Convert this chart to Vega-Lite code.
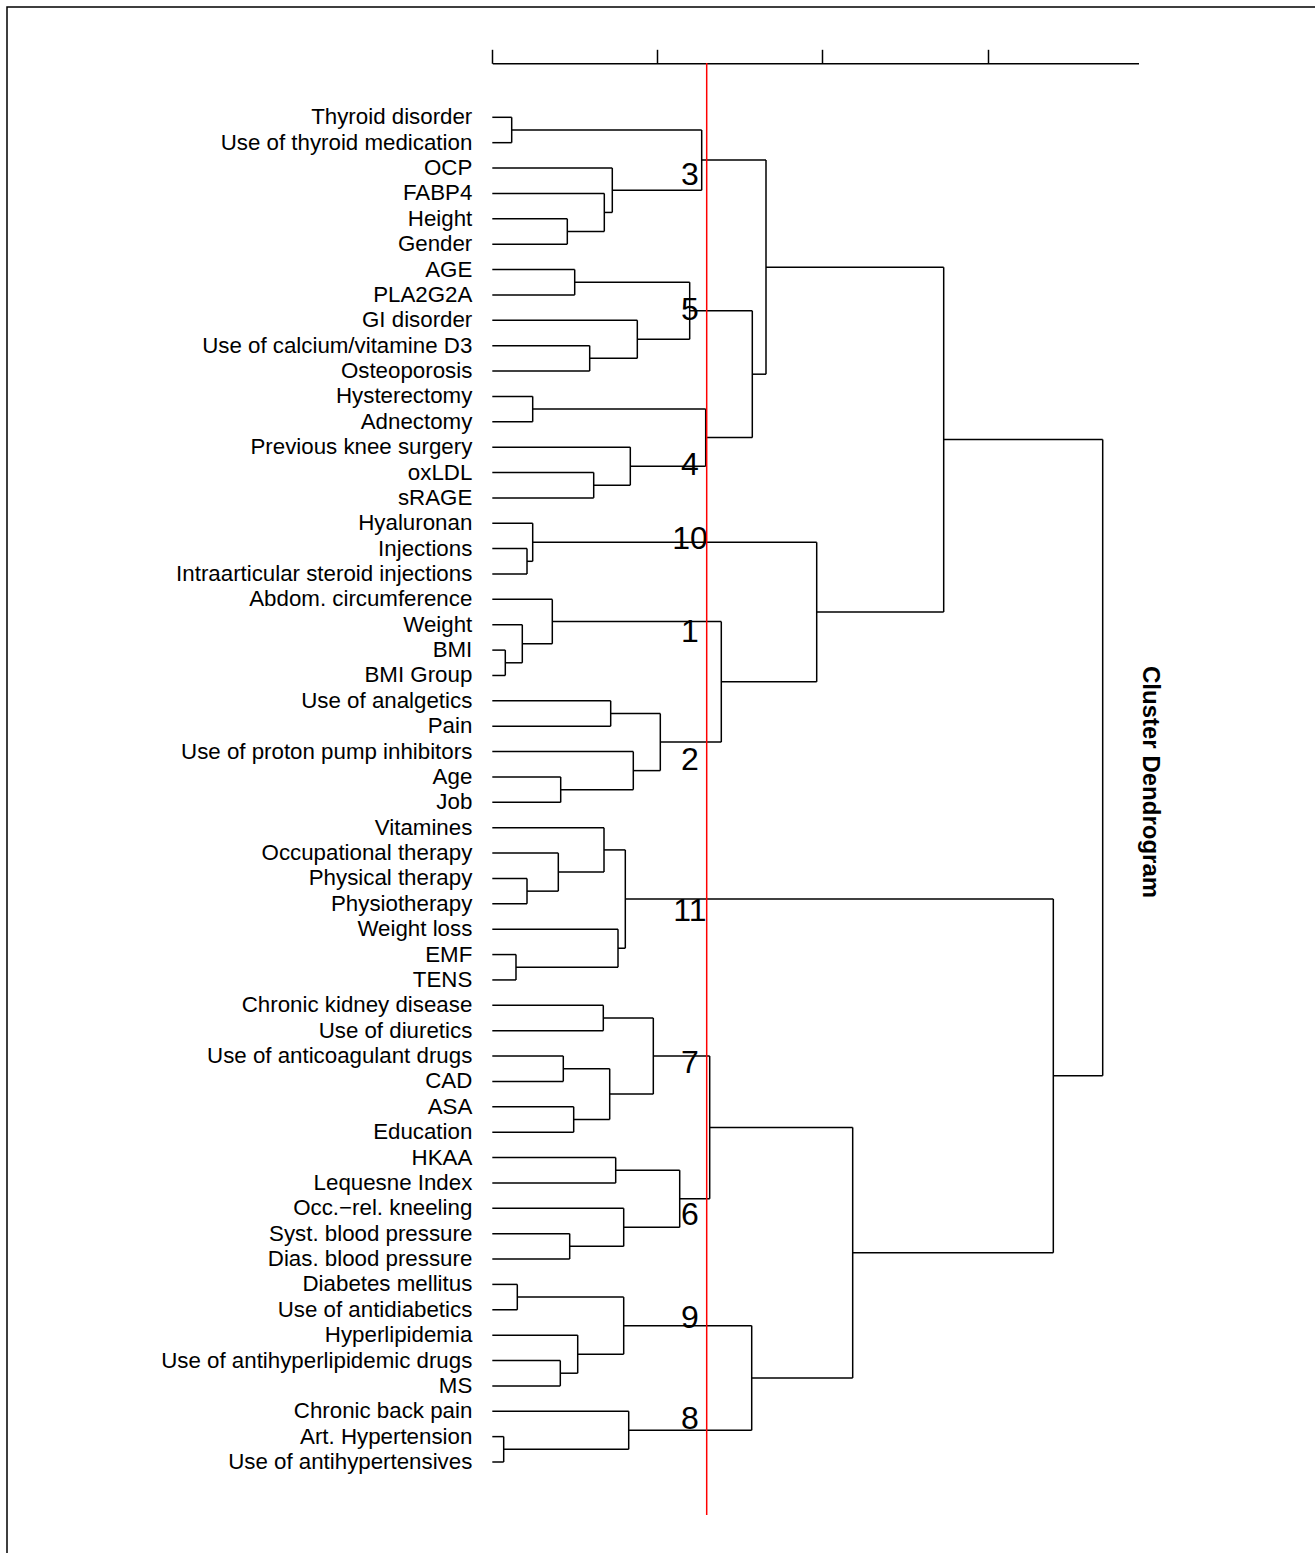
{
  "$schema": "https://vega.github.io/schema/vega-lite/v6.json",
  "width": 1310,
  "height": 1548,
  "autosize": "none",
  "padding": {"left": 7, "top": 7, "right": 0, "bottom": 0},
  "background": "#ffffff",
  "config": {
    "view": {"stroke": "#000000", "strokeWidth": 1.5},
    "font": "Liberation Sans",
    "axisX": {
      "orient": "top", "offset": -56.3, "labels": false, "title": null, "grid": false,
      "tickSize": 14, "tickColor": "#000000", "tickWidth": 1.5,
      "domainColor": "#000000", "domainWidth": 1.5
    }
  },
  "datasets": {
    "leaves": [
      {"name": "Thyroid disorder", "pos": 1},
      {"name": "Use of thyroid medication", "pos": 2},
      {"name": "OCP", "pos": 3},
      {"name": "FABP4", "pos": 4},
      {"name": "Height", "pos": 5},
      {"name": "Gender", "pos": 6},
      {"name": "AGE", "pos": 7},
      {"name": "PLA2G2A", "pos": 8},
      {"name": "GI disorder", "pos": 9},
      {"name": "Use of calcium/vitamine D3", "pos": 10},
      {"name": "Osteoporosis", "pos": 11},
      {"name": "Hysterectomy", "pos": 12},
      {"name": "Adnectomy", "pos": 13},
      {"name": "Previous knee surgery", "pos": 14},
      {"name": "oxLDL", "pos": 15},
      {"name": "sRAGE", "pos": 16},
      {"name": "Hyaluronan", "pos": 17},
      {"name": "Injections", "pos": 18},
      {"name": "Intraarticular steroid injections", "pos": 19},
      {"name": "Abdom. circumference", "pos": 20},
      {"name": "Weight", "pos": 21},
      {"name": "BMI", "pos": 22},
      {"name": "BMI Group", "pos": 23},
      {"name": "Use of analgetics", "pos": 24},
      {"name": "Pain", "pos": 25},
      {"name": "Use of proton pump inhibitors", "pos": 26},
      {"name": "Age", "pos": 27},
      {"name": "Job", "pos": 28},
      {"name": "Vitamines", "pos": 29},
      {"name": "Occupational therapy", "pos": 30},
      {"name": "Physical therapy", "pos": 31},
      {"name": "Physiotherapy", "pos": 32},
      {"name": "Weight loss", "pos": 33},
      {"name": "EMF", "pos": 34},
      {"name": "TENS", "pos": 35},
      {"name": "Chronic kidney disease", "pos": 36},
      {"name": "Use of diuretics", "pos": 37},
      {"name": "Use of anticoagulant drugs", "pos": 38},
      {"name": "CAD", "pos": 39},
      {"name": "ASA", "pos": 40},
      {"name": "Education", "pos": 41},
      {"name": "HKAA", "pos": 42},
      {"name": "Lequesne Index", "pos": 43},
      {"name": "Occ.−rel. kneeling", "pos": 44},
      {"name": "Syst. blood pressure", "pos": 45},
      {"name": "Dias. blood pressure", "pos": 46},
      {"name": "Diabetes mellitus", "pos": 47},
      {"name": "Use of antidiabetics", "pos": 48},
      {"name": "Hyperlipidemia", "pos": 49},
      {"name": "Use of antihyperlipidemic drugs", "pos": 50},
      {"name": "MS", "pos": 51},
      {"name": "Chronic back pain", "pos": 52},
      {"name": "Art. Hypertension", "pos": 53},
      {"name": "Use of antihypertensives", "pos": 54}
    ],
    "merges": [
      {"h": 0.1175, "y1": 1, "h1": 0, "y2": 2, "h2": 0},
      {"h": 0.4543, "y1": 5, "h1": 0, "y2": 6, "h2": 0},
      {"h": 0.6784, "y1": 4, "h1": 0, "y2": 5.5, "h2": 0.4543},
      {"h": 0.7268, "y1": 3, "h1": 0, "y2": 4.75, "h2": 0.6784},
      {"h": 1.2683, "y1": 1.5, "h1": 0.1175, "y2": 3.875, "h2": 0.7268},
      {"h": 0.4991, "y1": 7, "h1": 0, "y2": 8, "h2": 0},
      {"h": 0.5899, "y1": 10, "h1": 0, "y2": 11, "h2": 0},
      {"h": 0.8783, "y1": 9, "h1": 0, "y2": 10.5, "h2": 0.5899},
      {"h": 1.1956, "y1": 7.5, "h1": 0.4991, "y2": 9.75, "h2": 0.8783},
      {"h": 0.2447, "y1": 12, "h1": 0, "y2": 13, "h2": 0},
      {"h": 0.6142, "y1": 15, "h1": 0, "y2": 16, "h2": 0},
      {"h": 0.8359, "y1": 14, "h1": 0, "y2": 15.5, "h2": 0.6142},
      {"h": 1.2925, "y1": 12.5, "h1": 0.2447, "y2": 14.75, "h2": 0.8359},
      {"h": 1.5748, "y1": 8.625, "h1": 1.1956, "y2": 13.625, "h2": 1.2925},
      {"h": 1.6578, "y1": 2.6875, "h1": 1.2683, "y2": 11.125, "h2": 1.5748},
      {"h": 0.2102, "y1": 18, "h1": 0, "y2": 19, "h2": 0},
      {"h": 0.2447, "y1": 17, "h1": 0, "y2": 18.5, "h2": 0.2102},
      {"h": 0.0787, "y1": 22, "h1": 0, "y2": 23, "h2": 0},
      {"h": 0.1817, "y1": 21, "h1": 0, "y2": 22.5, "h2": 0.0787},
      {"h": 0.3634, "y1": 20, "h1": 0, "y2": 21.75, "h2": 0.1817},
      {"h": 0.7171, "y1": 24, "h1": 0, "y2": 25, "h2": 0},
      {"h": 0.4143, "y1": 27, "h1": 0, "y2": 28, "h2": 0},
      {"h": 0.854, "y1": 26, "h1": 0, "y2": 27.5, "h2": 0.4143},
      {"h": 1.0176, "y1": 24.5, "h1": 0.7171, "y2": 26.75, "h2": 0.854},
      {"h": 1.387, "y1": 20.875, "h1": 0.3634, "y2": 25.625, "h2": 1.0176},
      {"h": 1.9649, "y1": 17.75, "h1": 0.2447, "y2": 23.25, "h2": 1.387},
      {"h": 2.7341, "y1": 6.90625, "h1": 1.6578, "y2": 20.5, "h2": 1.9649},
      {"h": 0.2102, "y1": 31, "h1": 0, "y2": 32, "h2": 0},
      {"h": 0.3998, "y1": 30, "h1": 0, "y2": 31.5, "h2": 0.2102},
      {"h": 0.6766, "y1": 29, "h1": 0, "y2": 30.75, "h2": 0.3998},
      {"h": 0.1435, "y1": 34, "h1": 0, "y2": 35, "h2": 0},
      {"h": 0.7614, "y1": 33, "h1": 0, "y2": 34.5, "h2": 0.1435},
      {"h": 0.8056, "y1": 29.875, "h1": 0.6766, "y2": 33.75, "h2": 0.7614},
      {"h": 0.6723, "y1": 36, "h1": 0, "y2": 37, "h2": 0},
      {"h": 0.43, "y1": 38, "h1": 0, "y2": 39, "h2": 0},
      {"h": 0.493, "y1": 40, "h1": 0, "y2": 41, "h2": 0},
      {"h": 0.7111, "y1": 38.5, "h1": 0.43, "y2": 40.5, "h2": 0.493},
      {"h": 0.9752, "y1": 36.5, "h1": 0.6723, "y2": 39.5, "h2": 0.7111},
      {"h": 0.7474, "y1": 42, "h1": 0, "y2": 43, "h2": 0},
      {"h": 0.4688, "y1": 45, "h1": 0, "y2": 46, "h2": 0},
      {"h": 0.7959, "y1": 44, "h1": 0, "y2": 45.5, "h2": 0.4688},
      {"h": 1.1351, "y1": 42.5, "h1": 0.7474, "y2": 44.75, "h2": 0.7959},
      {"h": 1.3168, "y1": 38, "h1": 0.9752, "y2": 43.625, "h2": 1.1351},
      {"h": 0.1514, "y1": 47, "h1": 0, "y2": 48, "h2": 0},
      {"h": 0.4119, "y1": 50, "h1": 0, "y2": 51, "h2": 0},
      {"h": 0.5173, "y1": 49, "h1": 0, "y2": 50.5, "h2": 0.4119},
      {"h": 0.7959, "y1": 47.5, "h1": 0.1514, "y2": 49.75, "h2": 0.5173},
      {"h": 0.069, "y1": 53, "h1": 0, "y2": 54, "h2": 0},
      {"h": 0.8262, "y1": 52, "h1": 0, "y2": 53.5, "h2": 0.069},
      {"h": 1.5712, "y1": 48.625, "h1": 0.7959, "y2": 52.75, "h2": 0.8262},
      {"h": 2.1829, "y1": 40.8125, "h1": 1.3168, "y2": 50.6875, "h2": 1.5712},
      {"h": 3.398, "y1": 31.8125, "h1": 0.8056, "y2": 45.75, "h2": 2.1829},
      {"h": 3.6972, "y1": 13.703125, "h1": 2.7341, "y2": 38.78125, "h2": 3.398}
    ],
    "clusters": [
      {"k": "3", "pos": 3.21},
      {"k": "5", "pos": 8.5},
      {"k": "4", "pos": 14.61},
      {"k": "10", "pos": 17.53},
      {"k": "1", "pos": 21.22},
      {"k": "2", "pos": 26.24},
      {"k": "11", "pos": 32.21},
      {"k": "7", "pos": 38.2},
      {"k": "6", "pos": 44.19},
      {"k": "9", "pos": 48.25},
      {"k": "8", "pos": 52.23}
    ]
  },
  "layer": [
    {
      "data": {"name": "merges"},
      "mark": {"type": "rule", "color": "#000000", "strokeWidth": 1.5},
      "encoding": {
        "x": {
          "field": "h", "type": "quantitative", "title": null,
          "scale": {"domain": [0, 3.914], "range": [485.3, 1131.5], "zero": false, "nice": false},
          "axis": {"values": [0, 1, 2, 3], "title": null}
        },
        "y": {
          "field": "y1", "type": "quantitative",
          "scale": {"domain": [1, 54], "range": [110.3, 1455], "zero": false, "nice": false},
          "axis": null
        },
        "y2": {"field": "y2"}
      }
    },
    {
      "data": {"name": "merges"},
      "mark": {"type": "rule", "color": "#000000", "strokeWidth": 1.5},
      "encoding": {
        "x": {"field": "h1", "type": "quantitative", "title": null, "axis": {"values": [0, 1, 2, 3], "title": null}},
        "x2": {"field": "h"},
        "y": {"field": "y1", "type": "quantitative", "axis": null}
      }
    },
    {
      "data": {"name": "merges"},
      "mark": {"type": "rule", "color": "#000000", "strokeWidth": 1.5},
      "encoding": {
        "x": {"field": "h2", "type": "quantitative", "title": null, "axis": {"values": [0, 1, 2, 3], "title": null}},
        "x2": {"field": "h"},
        "y": {"field": "y2", "type": "quantitative", "axis": null}
      }
    },
    {
      "data": {"name": "leaves"},
      "mark": {"type": "text", "align": "right", "baseline": "middle", "dx": -20, "fontSize": 22.3, "font": "Liberation Sans", "color": "#000000"},
      "encoding": {
        "x": {"datum": 0, "type": "quantitative", "title": null, "axis": {"values": [0, 1, 2, 3], "title": null}},
        "y": {"field": "pos", "type": "quantitative", "axis": null},
        "text": {"field": "name"}
      }
    },
    {
      "data": {"name": "clusters"},
      "mark": {"type": "text", "align": "center", "baseline": "middle", "dy": 2, "fontSize": 32, "font": "Liberation Sans", "color": "#000000"},
      "encoding": {
        "x": {"datum": 1.197, "type": "quantitative", "title": null, "axis": {"values": [0, 1, 2, 3], "title": null}},
        "y": {"field": "pos", "type": "quantitative", "axis": null},
        "text": {"field": "k"}
      }
    },
    {
      "data": {"values": [{"cut": 1.2986, "top": -1.14, "bottom": 56.09}]},
      "mark": {"type": "rule", "color": "#ff0000", "strokeWidth": 1.5},
      "encoding": {
        "x": {"field": "cut", "type": "quantitative", "title": null, "axis": {"values": [0, 1, 2, 3], "title": null}},
        "y": {"field": "top", "type": "quantitative", "axis": null},
        "y2": {"field": "bottom"}
      }
    },
    {
      "data": {"values": [{"t": "Cluster Dendrogram", "hx": 3.984, "py": 27.2}]},
      "mark": {"type": "text", "align": "center", "baseline": "middle", "angle": 90, "fontSize": 24, "fontWeight": "bold", "font": "Liberation Sans", "color": "#000000"},
      "encoding": {
        "x": {"field": "hx", "type": "quantitative", "title": null, "axis": {"values": [0, 1, 2, 3], "title": null}},
        "y": {"field": "py", "type": "quantitative", "axis": null},
        "text": {"field": "t"}
      }
    }
  ]
}
